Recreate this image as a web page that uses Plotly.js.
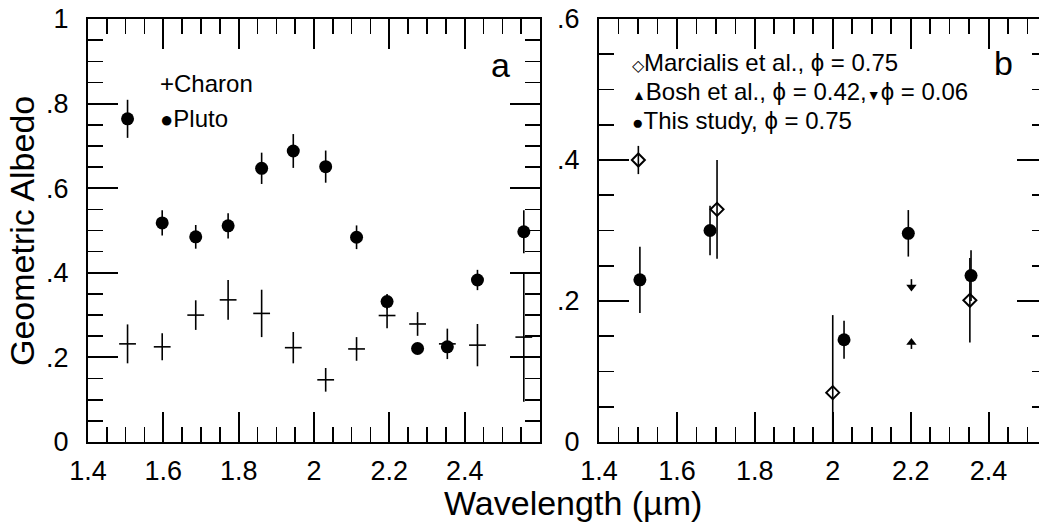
<!DOCTYPE html>
<html>
<head>
<meta charset="utf-8">
<script src="https://cdn.plot.ly/plotly-3.0.1.min.js"></script>
<style>
html,body{margin:0;padding:0;overflow:hidden;background:#fff;}
#chart{width:1047px;height:525px;}
</style>
</head>
<body>
<div id="chart"></div>
<script>
// ---- Panel a: Pluto and Charon ----
var wavelengthA = [1.505, 1.597, 1.686, 1.772, 1.861, 1.945, 2.031, 2.113, 2.194, 2.275, 2.354, 2.434, 2.557];
var plutoAlbedo = [0.764, 0.518, 0.485, 0.511, 0.647, 0.688, 0.651, 0.484, 0.332, 0.221, 0.225, 0.383, 0.497];
var plutoErr    = [0.045, 0.030, 0.028, 0.030, 0.037, 0.040, 0.038, 0.028, 0.018, 0.006, 0.012, 0.024, 0.051];
var charonAlbedo = [0.232, 0.225, 0.300, 0.336, 0.304, 0.223, 0.147, 0.220, 0.299, 0.279, 0.232, 0.229, 0.248];
var charonErr    = [0.046, 0.032, 0.035, 0.047, 0.056, 0.037, 0.028, 0.028, 0.030, 0.028, 0.036, 0.050, 0.153];

// ---- Panel b: comparison ----
var marcialisX = [1.501, 1.703, 2.000, 2.352];
var marcialisY = [0.400, 0.330, 0.070, 0.201];
var marcialisErr = [0.020, 0.070, 0.110, 0.060];
var studyX = [1.505, 1.685, 2.029, 2.194, 2.355];
var studyY = [0.230, 0.300, 0.145, 0.296, 0.236];
var studyErr = [0.047, 0.035, 0.027, 0.033, 0.036];
var boshHighX = [2.202];
var boshHighY = [0.141];
var boshLowX = [2.202];
var boshLowY = [0.220];

// ---- Ticks ----
var xTickVals = [1.4, 1.6, 1.8, 2.0, 2.2, 2.4];
var xTickText = ['1.4', '1.6', '1.8', '2', '2.2', '2.4'];
var yTickValsA = [0, 0.2, 0.4, 0.6, 0.8, 1.0];
var yTickTextA = ['0', '.2', '.4', '.6', '.8', '1'];
var yTickValsB = [0, 0.2, 0.4, 0.6];
var yTickTextB = ['0', '.2', '.4', '.6'];
var minorStep = 0.05;

var FONT = 'Liberation Sans, Arial, Helvetica, sans-serif';

function errBar(arr){
  return {type:'data', array:arr, visible:true, color:'black', thickness:1.6, width:0};
}

var traces = [
  // empty traces so the minor-tick axes get drawn
  {x: [], y: [], type:'scatter', mode:'markers', xaxis:'x3', yaxis:'y3', hoverinfo:'skip'},
  {x: [], y: [], type:'scatter', mode:'markers', xaxis:'x4', yaxis:'y4', hoverinfo:'skip'},
  {x: wavelengthA, y: charonAlbedo, type:'scatter', mode:'markers', xaxis:'x', yaxis:'y',
   error_y: errBar(charonErr),
   marker:{symbol:'line-ew', size:12, color:'black', line:{width:1.6, color:'black'}}},
  {x: wavelengthA, y: plutoAlbedo, type:'scatter', mode:'markers', xaxis:'x', yaxis:'y',
   error_y: errBar(plutoErr),
   marker:{symbol:'circle', size:13, color:'black'}},
  {x: marcialisX, y: marcialisY, type:'scatter', mode:'markers', xaxis:'x2', yaxis:'y2',
   error_y: errBar(marcialisErr),
   marker:{symbol:'diamond-open', size:10, color:'black', line:{width:2, color:'black'}}},
  {x: studyX, y: studyY, type:'scatter', mode:'markers', xaxis:'x2', yaxis:'y2',
   error_y: errBar(studyErr),
   marker:{symbol:'circle', size:13, color:'black'}},
  {x: boshHighX, y: boshHighY, type:'scatter', mode:'markers', xaxis:'x2', yaxis:'y2',
   error_y: {type:'data', symmetric:false, array:[0], arrayminus:[0.009], color:'black', thickness:1.6, width:0},
   marker:{symbol:'triangle-up', size:9, color:'black'}},
  {x: boshLowX, y: boshLowY, type:'scatter', mode:'markers', xaxis:'x2', yaxis:'y2',
   error_y: {type:'data', symmetric:false, array:[0.011], arrayminus:[0], color:'black', thickness:1.6, width:0},
   marker:{symbol:'triangle-down', size:9, color:'black'}}
];

function majorAxis(extra){
  var a = {
    showline:true, linewidth:2, linecolor:'black', mirror:'ticks',
    ticks:'inside', ticklen:30, tickwidth:2, tickcolor:'black',
    showgrid:false, zeroline:false, tickmode:'array',
    tickfont:{family:FONT, size:27, color:'black'}
  };
  for (var k in extra) a[k] = extra[k];
  return a;
}
function minorAxis(extra){
  var a = {
    showline:true, linewidth:2, linecolor:'black', mirror:'ticks',
    ticks:'inside', ticklen:15, tickwidth:1.6, tickcolor:'black',
    showgrid:false, zeroline:false, tickmode:'linear', tick0:0, dtick:minorStep,
    showticklabels:false
  };
  for (var k in extra) a[k] = extra[k];
  return a;
}

// pixel helpers for annotations (paper coordinates)
var L = 88, PW = 959, T = 19, PH = 423;
function px(x){ return (x - L) / PW; }
function py(y){ return (T + PH - y) / PH; }

var sym = function(s, size){ return '<span style="font-size:' + size + 'px">' + s + '</span>'; };

var annFont = {family:FONT, size:24, color:'black'};
var annotations = [
  {xref:'paper', yref:'paper', x:px(500), y:py(65), text:'a', showarrow:false, xanchor:'center', yanchor:'middle', font:{family:FONT, size:34, color:'black'}},
  {xref:'paper', yref:'paper', x:px(1003), y:py(63), text:'b', showarrow:false, xanchor:'center', yanchor:'middle', font:{family:FONT, size:34, color:'black'}},
  {xref:'paper', yref:'paper', x:px(158), y:py(83), text:'+Charon', showarrow:false, xanchor:'left', yanchor:'middle', font:annFont},
  {xref:'paper', yref:'paper', x:px(158), y:py(118), text:sym('●',22)+'Pluto', showarrow:false, xanchor:'left', yanchor:'middle', font:annFont},
  {xref:'paper', yref:'paper', x:px(630), y:py(62), text:sym('◇',16)+'Marcialis et al., ϕ = 0.75', showarrow:false, xanchor:'left', yanchor:'middle', font:annFont},
  {xref:'paper', yref:'paper', x:px(630), y:py(91), text:sym('▲',14)+'Bosh et al., ϕ = 0.42,'+sym('▼',14)+'ϕ = 0.06', showarrow:false, xanchor:'left', yanchor:'middle', font:annFont},
  {xref:'paper', yref:'paper', x:px(630), y:py(120), text:sym('●',19)+'This study, ϕ = 0.75', showarrow:false, xanchor:'left', yanchor:'middle', font:annFont},
  {xref:'paper', yref:'paper', x:px(573), y:py(503), text:'Wavelength (µm)', showarrow:false, xanchor:'center', yanchor:'middle', font:{family:FONT, size:34, color:'black'}},
  {xref:'paper', yref:'paper', x:px(22), y:py(231), text:'Geometric Albedo', textangle:-90, showarrow:false, xanchor:'center', yanchor:'middle', font:{family:FONT, size:34, color:'black'}}
];

var domA = [0, px(540)], domB = [px(599), 1];
var rangeXA = [1.4, 2.6], rangeXB = [1.4, 2.55];
var rangeYA = [0, 1], rangeYB = [0, 0.6];

var layout = {
  width:1047, height:525,
  margin:{l:88, r:0, t:19, b:83, pad:0},
  paper_bgcolor:'white', plot_bgcolor:'rgba(0,0,0,0)',
  showlegend:false,
  xaxis3: minorAxis({domain:domA, range:rangeXA, anchor:'y3'}),
  yaxis3: minorAxis({domain:[0,1], range:rangeYA, anchor:'x3'}),
  xaxis4: minorAxis({domain:domB, range:rangeXB, anchor:'y4'}),
  yaxis4: minorAxis({domain:[0,1], range:rangeYB, anchor:'x4'}),
  xaxis: majorAxis({domain:domA, range:rangeXA, tickvals:xTickVals, ticktext:xTickText, anchor:'y', ticklabelstandoff:4}),
  yaxis: majorAxis({domain:[0,1], range:rangeYA, tickvals:yTickValsA, ticktext:yTickTextA, anchor:'x', ticklabelstandoff:12}),
  xaxis2: majorAxis({domain:domB, range:rangeXB, tickvals:xTickVals, ticktext:xTickText, anchor:'y2', ticklabelstandoff:4}),
  yaxis2: majorAxis({domain:[0,1], range:rangeYB, tickvals:yTickValsB, ticktext:yTickTextB, anchor:'x2', ticklabelstandoff:12}),
  annotations: annotations
};

Plotly.newPlot('chart', traces, layout, {displayModeBar:false, staticPlot:true});
</script>
</body>
</html>
